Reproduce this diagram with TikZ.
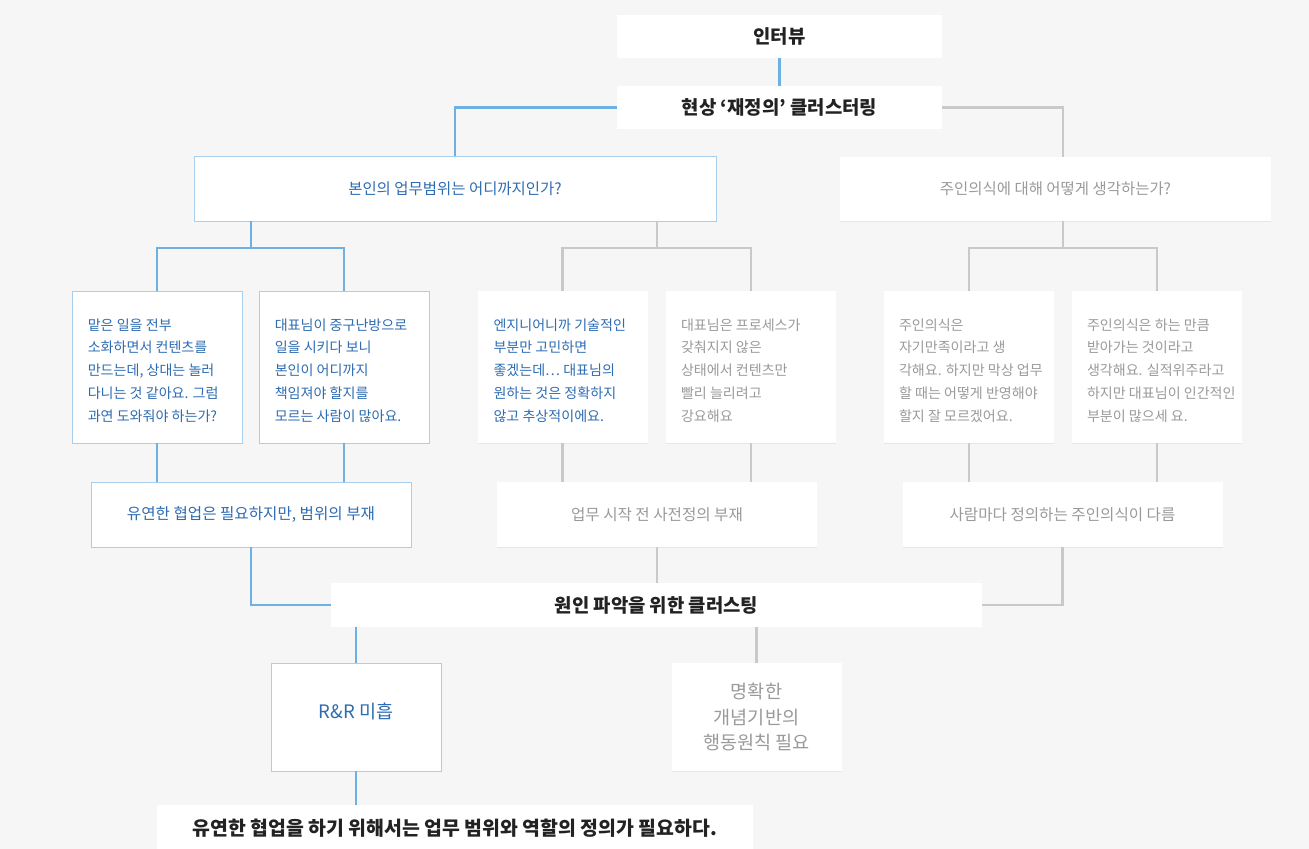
\documentclass[tikz,border=0pt]{standalone}
\usepackage{fontspec}
\setmainfont{Noto Sans CJK KR}
\usetikzlibrary{shadows}

\definecolor{bgcol}{HTML}{F6F6F6}
\definecolor{linkblue}{HTML}{6DB1E2}
\definecolor{linkgray}{HTML}{C9C9C9}
\definecolor{edgeblue}{HTML}{A8D0EE}
\definecolor{textblue}{HTML}{2E6CB2}
\definecolor{textgray}{HTML}{9A9A9A}
\definecolor{textdark}{HTML}{222222}

\begin{document}
\begin{tikzpicture}[scale=0.25]
		\tikzstyle{every node}+=[inner sep=0pt]
		\tikzstyle{headbox}=[fill=white, text=textdark, font=\fontsize{13.4}{16}\selectfont\bfseries]
		\tikzstyle{bluebox}=[fill=white, draw=edgeblue, line width=0.7pt, text=textblue, drop shadow={opacity=0.08, shadow xshift=0.3pt, shadow yshift=-0.8pt}]
		\tikzstyle{graybox}=[fill=white, text=textgray, drop shadow={opacity=0.13, shadow xshift=0.3pt, shadow yshift=-0.8pt}]
		\tikzstyle{qbox}=[minimum width=4.25cm, minimum height=3.8cm]
		\tikzstyle{gbox}=[minimum width=8cm, minimum height=1.625cm, font=\fontsize{11.1}{13}\selectfont]
		\tikzstyle{qtext}=[anchor=west, align=left, font=\fontsize{10}{16.2}\selectfont]
		\tikzstyle{bluelink}=[draw=linkblue, line width=1.8pt]
		\tikzstyle{graylink}=[draw=linkgray, line width=1.8pt]
		\useasboundingbox (0,0) rectangle (130.9,-84.9);
		\fill [bgcol] (0,0) rectangle (130.9,-84.9);
		% interview and clustering
		\node [headbox, minimum width=8.125cm, minimum height=1.075cm] (intv) at (77.95,-3.65) {인터뷰};
		\node [headbox, minimum width=8.125cm, minimum height=1.075cm] (recl) at (77.95,-10.75) {현상 ‘재정의’ 클러스터링};
		\node [bluebox, minimum width=13.05cm, minimum height=1.625cm, font=\fontsize{11}{13}\selectfont] (scope) at (45.5,-18.85) {본인의 업무범위는 어디까지인가?};
		\node [graybox, minimum width=10.775cm, minimum height=1.6cm, font=\fontsize{11}{13}\selectfont] (owner) at (105.55,-18.9) {주인의식에 대해 어떻게 생각하는가?};
		% quotes
		\node [bluebox, qbox] (qa) at (15.7,-36.7) {};
		\node [qtext, text=textblue] (qa-txt) at ([xshift=1.6cm,yshift=-0.35cm]qa.west) {맡은 일을 전부\\소화하면서 컨텐츠를\\만드는데, 상대는 놀러\\다니는 것 같아요. 그럼\\과연 도와줘야 하는가?};
		\node [bluebox, qbox] (qb) at (34.4,-36.7) {};
		\node [qtext, text=textblue] (qb-txt) at ([xshift=1.6cm,yshift=-0.35cm]qb.west) {대표님이 중구난방으로\\일을 시키다 보니\\본인이 어디까지\\책임져야 할지를\\모르는 사람이 많아요.};
		\node [graybox, qbox] (qc) at (56.25,-36.7) {};
		\node [qtext, text=textblue] (qc-txt) at ([xshift=1.6cm,yshift=-0.35cm]qc.west) {엔지니어니까 기술적인\\부분만 고민하면\\좋겠는데… 대표님의\\원하는 것은 정확하지\\않고 추상적이에요.};
		\node [graybox, qbox] (qd) at (75.1,-36.7) {};
		\node [qtext, text=textgray] (qd-txt) at ([xshift=1.5cm,yshift=-0.35cm]qd.west) {대표님은 프로세스가\\갖춰지지 않은\\상태에서 컨텐츠만\\빨리 늘리려고\\강요해요};
		\node [graybox, qbox] (qe) at (96.9,-36.7) {};
		\node [qtext, text=textgray] (qe-txt) at ([xshift=1.5cm,yshift=-0.35cm]qe.west) {주인의식은\\자기만족이라고 생\\각해요. 하지만 막상 업무\\할 때는 어떻게 반영해야\\할지 잘 모르겠어요.};
		\node [graybox, qbox] (qf) at (115.7,-36.7) {};
		\node [qtext, text=textgray] (qf-txt) at ([xshift=1.5cm,yshift=-0.35cm]qf.west) {주인의식은 하는 만큼\\받아가는 것이라고\\생각해요. 실적위주라고\\하지만 대표님이 인간적인\\부분이 많으세 요.};
		% groups
		\node [bluebox, gbox] (ga) at (25.1,-51.45) {유연한 협업은 필요하지만, 범위의 부재};
		\node [graybox, gbox] (gb) at (65.7,-51.45) {업무 시작 전 사전정의 부재};
		\node [graybox, gbox] (gc) at (106.25,-51.45) {사람마다 정의하는 주인의식이 다름};
		% causes
		\node [headbox, minimum width=16.275cm, minimum height=1.1cm] (cause) at (65.65,-60.5) {원인 파악을 위한 클러스팅};
		\node [bluebox, minimum width=4.25cm, minimum height=2.7cm, font=\fontsize{13.2}{18}\selectfont] (rr) at (35.6,-71.7) {R\&R 미흡\vphantom{Ag}\raisebox{0pt}[0pt][0.3cm]{}};
		\node [graybox, minimum width=4.25cm, minimum height=2.7cm, align=center, font=\fontsize{13.2}{18}\selectfont] (clear) at (75.65,-71.7) {명확한\\개념기반의\\행동원칙 필요};
		\node [headbox, minimum width=14.9cm, minimum height=1.15cm, font=\fontsize{13.8}{16}\selectfont\bfseries] (final) at (45.5,-82.8) {유연한 협업을 하기 위해서는 업무 범위와 역할의 정의가 필요하다.};
		% junctions
		\coordinate (ja) at (25.1,-24.8);
		\coordinate (jb) at (65.7,-24.8);
		\coordinate (jc) at (106.3,-24.8);
		% links
		\draw [bluelink] (intv) -- (recl);
		\draw [bluelink] (recl.west) -| (scope.north);
		\draw [graylink] (recl.east) -| (owner.north -| jc);
		\draw [bluelink] (scope.south -| ja) -- (ja);
		\draw [bluelink] (qa.north) |- (ja) -| (qb.north);
		\draw [graylink] (scope.south -| jb) -- (jb);
		\draw [graylink] (qc.north) |- (jb) -| (qd.north);
		\draw [graylink] (owner.south -| jc) -- (jc);
		\draw [graylink] (qe.north) |- (jc) -| (qf.north);
		\draw [bluelink] (qa.south) -- (qa.south |- ga.north);
		\draw [bluelink] (qb.south) -- (qb.south |- ga.north);
		\draw [graylink] (qc.south) -- (qc.south |- gb.north);
		\draw [graylink] (qd.south) -- (qd.south |- gb.north);
		\draw [graylink] (qe.south) -- (qe.south |- gc.north);
		\draw [graylink] (qf.south) -- (qf.south |- gc.north);
		\draw [bluelink] (ga.south) |- (cause.west);
		\draw [graylink] (gb.south) -- (gb.south |- cause.north);
		\draw [graylink] (gc.south) |- (cause.east);
		\draw [bluelink] (cause.south -| rr.north) -- (rr.north);
		\draw [graylink] (cause.south -| clear.north) -- (clear.north);
		\draw [bluelink] (rr.south) -- (rr.south |- final.north);
	\end{tikzpicture}
\end{document}
